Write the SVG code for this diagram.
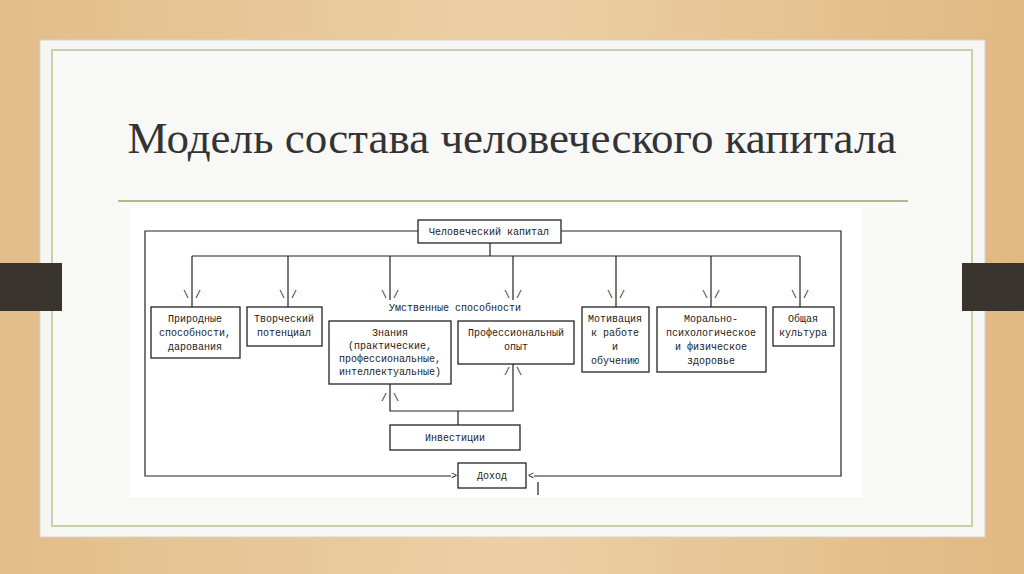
<svg xmlns="http://www.w3.org/2000/svg" width="1024" height="574" viewBox="0 0 1024 574">
<defs>
<linearGradient id="wood" x1="0" y1="0" x2="1" y2="0">
<stop offset="0" stop-color="#e2bd8a"/><stop offset="0.5" stop-color="#ecd0a4"/><stop offset="1" stop-color="#e0b883"/>
</linearGradient>
</defs>
<style>
.b{fill:#fff;stroke:#222;stroke-width:1.3}
.l{fill:none;stroke:#222;stroke-width:1.2}
.t{font-family:"Liberation Mono",monospace;font-size:10px;fill:#222;text-anchor:middle}
</style>
<rect width="1024" height="574" fill="url(#wood)"/>
<rect x="40" y="40" width="945" height="497" fill="#f6f6f4" stroke="#d9d4c8"/>
<rect x="52" y="50" width="920" height="476" fill="#f8f8f6" stroke="#b9c48f" stroke-width="1.5"/>
<rect x="0" y="263" width="62" height="48" fill="#3a342e"/>
<rect x="962" y="263" width="62" height="48" fill="#3a342e"/>
<text x="512" y="153" font-family="Liberation Serif,serif" font-size="45" fill="#333" text-anchor="middle">Модель состава человеческого капитала</text>
<line x1="118" y1="201" x2="908" y2="201" stroke="#9aa36a" stroke-width="1.5"/>
<rect x="130" y="208" width="732" height="289" fill="#fff"/>
<g id="connectors">
<path class="l" d="M418 231H145V476H451M561 231H841V476H534M490 243V256M192 256H800M192 256V307M288 256V307M390 256V300M513 256V300M616 256V307M711 256V307M800 256V307M390 384V411H513V364M458 411V425M538 482V495"/>
<text class="t" x="192" y="298">\ /</text><text class="t" x="288" y="298">\ /</text><text class="t" x="390" y="298">\ /</text><text class="t" x="513" y="298">\ /</text><text class="t" x="616" y="298">\ /</text><text class="t" x="711" y="298">\ /</text><text class="t" x="800" y="298">\ /</text>
<text class="t" x="390" y="401">/ \</text><text class="t" x="513" y="375">/ \</text>
<text class="t" x="454" y="479">&gt;</text><text class="t" x="531" y="479">&lt;</text>
</g>
<g id="n0"><rect class="b" x="418" y="220" width="143" height="23"/><text class="t" x="489" y="235">Человеческий капитал</text></g>
<g id="n1"><rect class="b" x="151" y="307" width="89" height="51"/><text class="t" x="195" y="322">Природные</text><text class="t" x="195" y="336">способности,</text><text class="t" x="195" y="350">дарования</text></g>
<g id="n2"><rect class="b" x="247" y="307" width="75" height="39"/><text class="t" x="284" y="322">Творческий</text><text class="t" x="284" y="336">потенциал</text></g>
<text class="t" x="455" y="311">Умственные способности</text>
<g id="n3"><rect class="b" x="329" y="321" width="122" height="63"/><text class="t" x="390" y="336">Знания</text><text class="t" x="390" y="349">(практические,</text><text class="t" x="390" y="362">профессиональные,</text><text class="t" x="390" y="375">интеллектуальные)</text></g>
<g id="n4"><rect class="b" x="458" y="321" width="116" height="43"/><text class="t" x="516" y="336">Профессиональный</text><text class="t" x="516" y="350">опыт</text></g>
<g id="n5"><rect class="b" x="582" y="307" width="67" height="65"/><text class="t" x="615" y="322">Мотивация</text><text class="t" x="615" y="336">к работе</text><text class="t" x="615" y="350">и</text><text class="t" x="615" y="364">обучению</text></g>
<g id="n6"><rect class="b" x="657" y="307" width="109" height="65"/><text class="t" x="711" y="322">Морально-</text><text class="t" x="711" y="336">психологическое</text><text class="t" x="711" y="350">и физическое</text><text class="t" x="711" y="364">здоровье</text></g>
<g id="n7"><rect class="b" x="773" y="307" width="61" height="39"/><text class="t" x="803" y="322">Общая</text><text class="t" x="803" y="336">культура</text></g>
<g id="n8"><rect class="b" x="390" y="425" width="130" height="25"/><text class="t" x="455" y="441">Инвестиции</text></g>
<g id="n9"><rect class="b" x="458" y="463" width="68" height="25"/><text class="t" x="492" y="479">Доход</text></g>
</svg>
